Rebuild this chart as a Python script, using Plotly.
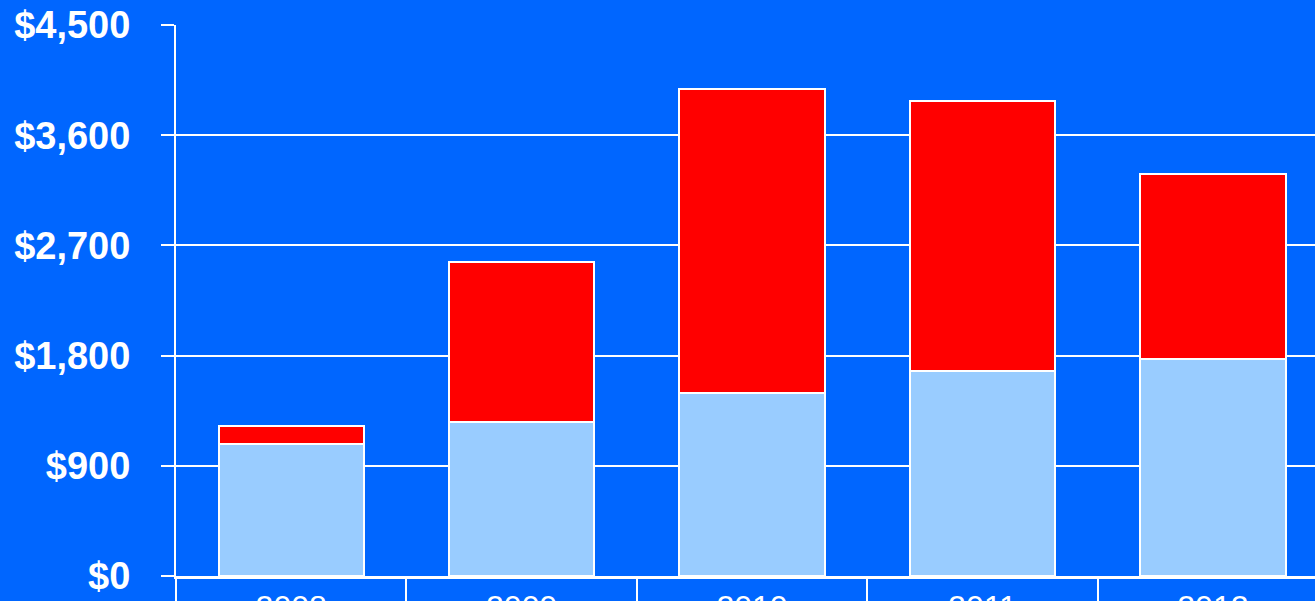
import plotly.graph_objects as go

years = ["2008", "2009", "2010", "2011", "2012"]
base_values = [1080, 1260, 1495, 1675, 1775]
top_values = [145, 1305, 2485, 2205, 1510]
y_ticks = [0, 900, 1800, 2700, 3600, 4500]
y_tick_labels = ["$0", "$900", "$1,800", "$2,700", "$3,600", "$4,500"]

BG = "#0066FF"
FONT = "Liberation Sans, Arial, sans-serif"

fig = go.Figure()
fig.add_trace(go.Bar(x=years, y=base_values, marker=dict(color="#99CCFF", line=dict(color="white", width=2)), width=0.63))
fig.add_trace(go.Bar(x=years, y=top_values, marker=dict(color="#FF0000", line=dict(color="white", width=2)), width=0.63))

fig.update_layout(
    barmode="stack",
    width=1315, height=601,
    margin=dict(l=176, r=0, t=25, b=25, autoexpand=False),
    paper_bgcolor=BG, plot_bgcolor=BG,
    showlegend=False,
    font=dict(family=FONT, color="white"),
)
fig.update_xaxes(
    type="category",
    range=[-0.5, 4.443],
    automargin=False,
    showline=True, linecolor="white", linewidth=3,
    showgrid=False,
    ticks="outside", tickson="boundaries", ticklen=30, tickwidth=2, tickcolor="white",
    tickfont=dict(size=32, color="white", family=FONT),
    ticklabelstandoff=1,
)
fig.update_yaxes(
    range=[0, 4500],
    automargin=False,
    tickvals=y_ticks, ticktext=y_tick_labels,
    showline=True, linecolor="white", linewidth=2,
    showgrid=True, gridcolor="white", gridwidth=2,
    zeroline=False,
    ticks="outside", ticklen=13, tickwidth=2, tickcolor="white",
    tickfont=dict(size=38, color="white", family=FONT, weight="bold"),
    ticklabelstandoff=23,
)
fig.write_html("out.html")
